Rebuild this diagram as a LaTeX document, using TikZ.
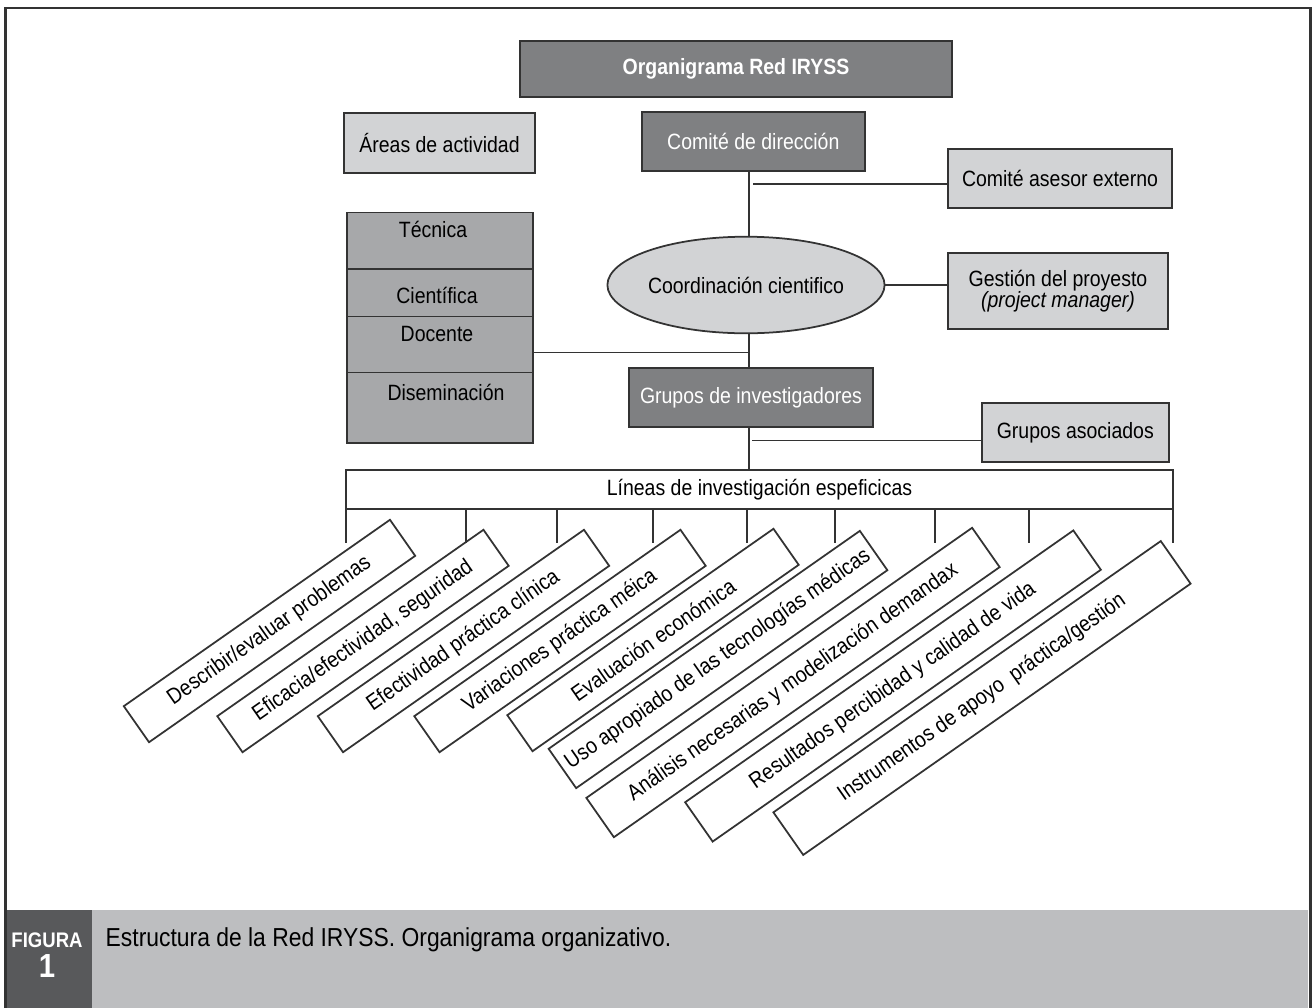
\documentclass[tikz,border=0pt]{standalone}
\usepackage{fontspec}
\setmainfont[FakeStretch=0.88]{Liberation Sans}
\usetikzlibrary{shapes.geometric,positioning}

\definecolor{darkbox}{HTML}{7F8082}
\definecolor{midbox}{HTML}{A7A8AA}
\definecolor{lightbox}{HTML}{D2D3D5}
\definecolor{capband}{HTML}{BDBEC0}
\definecolor{capdark}{HTML}{58595B}
\definecolor{framec}{HTML}{333333}

\tikzset{
  box/.style={draw=framec, line width=1pt, inner sep=2pt, align=center},
  headbox/.style={box, fill=darkbox, text=white},
  sidebox/.style={box, fill=lightbox},
  stackbox/.style={box, fill=midbox, minimum width=3.726cm, anchor=north west},
  linebox/.style={box, fill=white, rotate=35, minimum height=0.88cm},
  conn/.style={draw=framec, line width=0.75pt},
}

\begin{document}
\begin{tikzpicture}[x=0.02cm, y=-0.02cm, font=\fontsize{12.6}{14.5}\selectfont]
    \useasboundingbox (0,0) rectangle (1313,1008);
    \fill[white] (0,0) rectangle (1313,1008);

    % caption band and frame
    \fill[capband] (5,910) rectangle (1308,1008);
    \fill[capdark] (5,910) rectangle (92,1008);
    \draw[framec, line width=1.5pt] (5.3,1008) -- (5.3,8) -- (1310.5,8) -- (1310.5,1008);

    \node[headbox, minimum width=8.64cm, minimum height=1.12cm, font=\fontsize{12.6}{14.5}\selectfont\bfseries] (title) at (736,68.7) {Organigrama Red IRYSS};

    \node[sidebox, minimum width=3.82cm, minimum height=1.2cm] (areas) at (439.5,143.3) {Áreas de actividad};
    \node[headbox, minimum width=4.466cm, minimum height=1.186cm] (dir) at (753.3,141.3) {Comité de dirección};
    \node[sidebox, minimum width=4.468cm, minimum height=1.174cm] (asesor) at (1060,178.3) {Comité asesor externo};
    \node[sidebox, ellipse, minimum width=4.8cm, minimum height=1.932cm, inner sep=0pt] (coord) at (746,285) {Coordinación cientifico};
    \node[sidebox, minimum width=4.388cm, minimum height=1.532cm, font=\fontsize{12.6}{12}\selectfont] (gestion) at (1058,291) {Gestión del proyesto\\\textit{(project manager)}};

    % areas de actividad
    \node[stackbox, minimum height=1.132cm] (tec) at (346,211.7) {};
    \node[stackbox, minimum height=0.948cm] (cie) at (346,268.3) {};
    \node[stackbox, minimum height=1.12cm] (doc) at (346,315.7) {};
    \node[stackbox, minimum height=1.406cm] (dis) at (346,371.7) {};
    \node (tect) at (433,229) {Técnica};
    \node (ciet) at (437,295) {Científica};
    \node (doct) at (437,334) {Docente};
    \node (dist) at (446,392) {Diseminación};

    \node[headbox, minimum width=4.868cm, minimum height=1.192cm] (grupos) at (751,397.5) {Grupos de investigadores};
    \node[sidebox, minimum width=3.746cm, minimum height=1.168cm] (asoc) at (1075.3,432.5) {Grupos asociados};
    \node[box, fill=white, minimum width=16.54cm, minimum height=0.78cm] (lineas) at (759.5,489.5) {Líneas de investigación espeficicas};

    % lineas de investigacion
    \node[linebox, minimum width=6.5cm] (l1) at (269.5,631) {Describir/evaluar problemas};
    \node[linebox, minimum width=6.5cm] (l2) at (363,641) {Eficacia/efectividad, seguridad};
    \node[linebox, minimum width=6.5cm] (l3) at (463.5,641) {Efectividad práctica clínica};
    \node[linebox, minimum width=6.5cm] (l4) at (560,641) {Variaciones práctica méica};
    \node[linebox, minimum width=6.5cm] (l5) at (653,640) {Evaluación económica};
    \node[linebox, minimum width=7.6cm, minimum height=0.96cm] (l6) at (718,659.5) {Uso apropiado de las tecnologías médicas};
    \node[linebox, minimum width=9.42cm, minimum height=0.96cm] (l7) at (793,682.5) {Análisis necesarias y modelización demandax};
    \node[linebox, minimum width=9.48cm, minimum height=0.96cm] (l8) at (893,686) {Resultados percibidad y calidad de vida};
    \node[linebox, minimum width=9.46cm, minimum height=1.04cm] (l9) at (982,698) {Instrumentos de apoyo\ \ práctica/gestión};

    % connectors
    \coordinate (spine) at (749,0);
    \draw[conn] (dir.south -| spine) -- (coord.north -| spine);
    \coordinate (jase) at (753,184);
    \draw[conn] (jase) -- (jase -| asesor.west);
    \draw[conn] (coord.east) -- (coord.east -| gestion.west);
    \coordinate (jdoc) at (749,352.7);
    \draw[conn] (jdoc -| doc.east) -- (jdoc);
    \draw[conn] (coord.south -| spine) -- (grupos.north -| spine);
    \draw[conn] (grupos.south -| spine) -- (lineas.north -| spine);
    \coordinate (jaso) at (752,440.7);
    \draw[conn] (jaso) -- (jaso -| asoc.west);
    \foreach \tx in {346,466,557,653,747,835,935,1029,1173}
      \draw[conn] (\tx,0 |- lineas.south) -- ++(0,32.7);

    % caption
    \node[text=white, font=\fontsize{12}{12}\selectfont\bfseries] (fig) at (47,940) {FIGURA};
    \node[text=white, font=\fontsize{19}{19}\selectfont\bfseries] (fignum) at (47,966) {1};
    \node[anchor=west, font=\fontsize{14.8}{16}\selectfont] (caption) at (99.5,940) {Estructura de la Red IRYSS. Organigrama organizativo.};
\end{tikzpicture}
\end{document}
